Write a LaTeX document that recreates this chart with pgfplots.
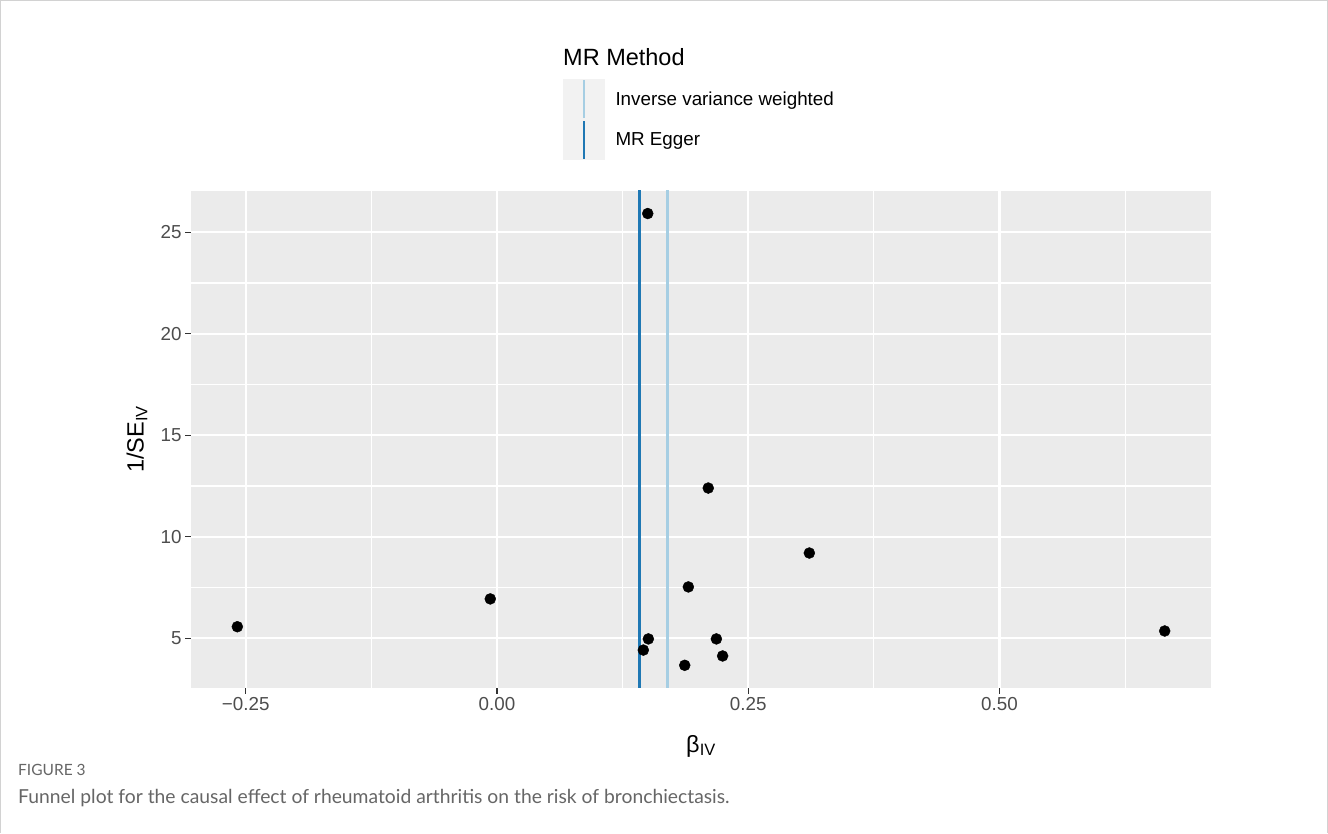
\documentclass[border=0pt]{standalone}
\usepackage{pgfplots}
\pgfplotsset{compat=1.18}
\usepackage{fontspec}
\setmainfont{Liberation Sans}
\newfontfamily\capfont{Lato}
\definecolor{panelbg}{HTML}{EBEBEB}
\definecolor{keybg}{HTML}{F2F2F2}
\definecolor{ticklab}{HTML}{4D4D4D}
\definecolor{tickc}{HTML}{333333}
\definecolor{egger}{HTML}{1F78B4}
\definecolor{ivw}{HTML}{A6CEE3}
\definecolor{capgray}{HTML}{666666}
\begin{document}
\begin{tikzpicture}[x=1pt,y=1pt]
\path[use as bounding box] (0,0) rectangle (1328,833);
\fill[white] (0,0) rectangle (1328,833);
\draw[gray!35, line width=1.2pt] (0.6,0) -- (0.6,832.4) -- (1327.4,832.4) -- (1327.4,0);
\begin{axis}[
  at={(191pt,145.3pt)}, anchor=south west,
  scale only axis, width=1020pt, height=496.7pt,
  xmin=-0.3045, xmax=0.7105, ymin=2.567, ymax=27.03,
  axis background/.style={fill=panelbg},
  axis line style={draw=none},
  xtick={-0.25,0,0.25,0.5},
  xticklabels={−0.25,0.00,0.25,0.50},
  ytick={5,10,15,20,25},
  yticklabels={5,10,15,20,25},
  minor xtick={-0.125,0.125,0.375,0.625},
  minor ytick={7.5,12.5,17.5,22.5},
  grid=both,
  major grid style={white, line width=2.4pt},
  minor grid style={white, line width=1.2pt},
  tick align=outside,
  major tick length=6pt,
  minor tick length=0pt,
  tick style={tickc, line width=1.4pt},
  tick pos=left,
  ticklabel style={font=\fontsize{18.8}{22}\selectfont, text=ticklab},
  xlabel={β\textsubscript{IV}},
  ylabel={1/SE\textsubscript{IV}},
  xlabel style={at={(axis description cs:0.5,-0.1174)}, anchor=center, font=\fontsize{23.5}{26}\selectfont},
  ylabel style={at={(axis description cs:-0.0529,0.5)}, anchor=center, font=\fontsize{23.5}{26}\selectfont},
  legend style={at={(axis description cs:0.3647,1.2255)}, anchor=north west, draw=none, fill=none,
     inner sep=0pt, outer sep=0pt, row sep=0pt, column sep=11pt,
     font=\fontsize{18.8}{22}\selectfont, nodes={inner sep=0pt, text=black}},
  legend cell align=left,
  legend image code/.code={\fill[keybg] (0pt,-19pt) rectangle (39pt,19pt); \draw[#1] (19.5pt,-19pt) -- (19.5pt,19pt);},
]
\addplot[ivw, line width=2.5pt] coordinates {(0.1698,0) (0.1698,30)};
\addlegendentry{Inverse variance weighted}
\addplot[egger, line width=2.5pt] coordinates {(0.1416,0) (0.1416,30)};
\addlegendentry{MR Egger}
\addplot[only marks, mark=*, mark size=5.5pt, black, forget plot] coordinates {
(0.150,25.92)
(0.2102,12.40)
(0.3108,9.20)
(0.1904,7.53)
(-0.0067,6.94)
(0.1506,4.97)
(0.1456,4.42)
(0.2183,4.97)
(0.2245,4.13)
(0.1868,3.67)
(0.6644,5.36)
(-0.2584,5.57)
};
\end{axis}
\node[anchor=west, inner sep=0pt, font=\fontsize{23.5}{26}\selectfont] at (563,776) {MR Method};
\node[anchor=west, inner sep=0pt, font=\capfont\fontsize{15.5}{17}\selectfont, text=capgray] at (18,63) {FIGURE 3};
\node[anchor=west, inner sep=0pt, font=\capfont\fontsize{19.3}{22}\selectfont, text=capgray] at (18,35) {Funnel plot for the causal effect of rheumatoid arthritis on the risk of bronchiectasis.};
\end{tikzpicture}
\end{document}
